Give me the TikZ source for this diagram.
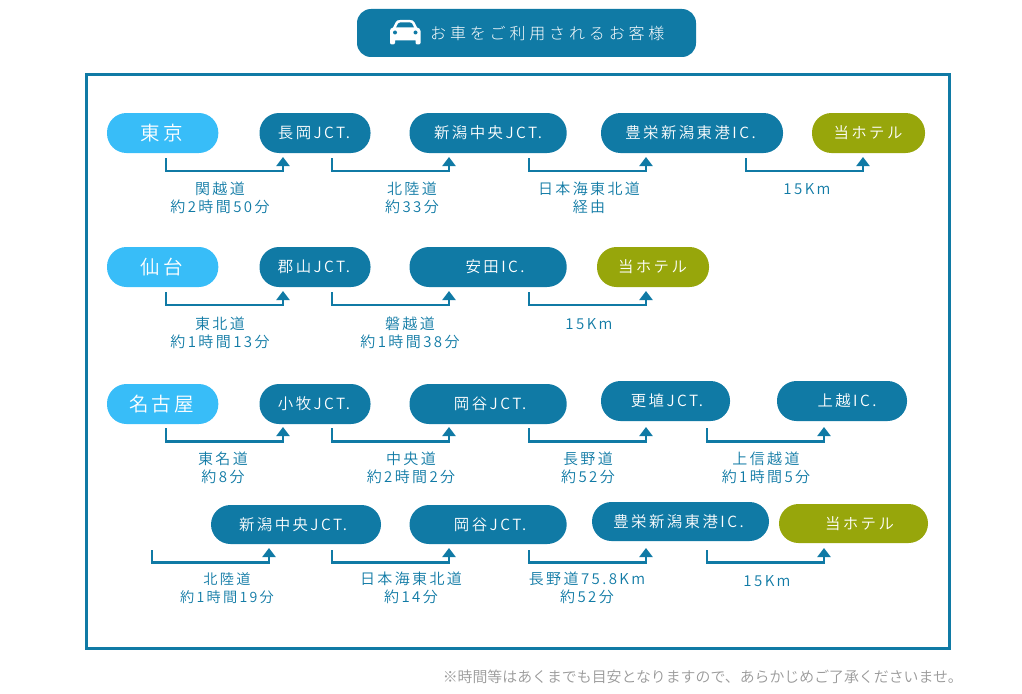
\documentclass[tikz,border=0pt]{standalone}
\usepackage{fontspec}
\usetikzlibrary{arrows.meta}
\setmainfont{Noto Sans CJK JP}
\newfontfamily\jpa[LetterSpace=16]{Noto Sans CJK JP DemiLight}
\newfontfamily\jph[LetterSpace=24]{Noto Sans CJK JP Light}
\newfontfamily\jpb{Noto Sans CJK JP DemiLight}
\definecolor{tealblue}{HTML}{107AA5}
\definecolor{skyb}{HTML}{38BDF8}
\definecolor{olivegr}{HTML}{97A60B}
\definecolor{notegray}{HTML}{999999}
\tikzset{
  x=1pt,y=-1pt,
  pillbase/.style={rounded corners=19.5pt,inner sep=0pt,text=white,font=\jpa\fontsize{15.4}{15.4}\selectfont,anchor=center},
  route/.style={pillbase,fill=tealblue},
  city/.style={pillbase,fill=skyb,font=\jpa\fontsize{19.5}{19.5}\selectfont},
  hotel/.style={pillbase,fill=olivegr},
  conn/.style={draw=tealblue,line width=2.2pt,-{Triangle[width=13pt,length=9pt]}},
  lab/.style={text=tealblue,font=\jpa\fontsize{15}{15}\selectfont,anchor=center,inner sep=0pt},
  labsmall/.style={lab,font=\jpa\fontsize{14.2}{14.2}\selectfont},
}
% name, x0, x1, y0, y1, style, dx, text
\newcommand{\pill}[8]{%
  \pgfmathsetmacro{\pw}{#3-#2}\pgfmathsetmacro{\ph}{#5-#4}%
  \pgfmathsetmacro{\pcx}{(#2+#3)/2}\pgfmathsetmacro{\pcy}{(#4+#5)/2}%
  \node[#6,minimum width=\pw pt,minimum height=\ph pt] (#1) at (\pcx,\pcy) {\hspace*{#7pt}#8};}
% name, x start, x tip, y start, y bar, y tip
\newcommand{\conn}[6]{%
  \coordinate (#1s) at (#2,#4);\coordinate (#1m) at (#3,#5);\coordinate (#1e) at (#3,#6);
  \draw[conn] (#1s) |- (#1m) -- (#1e);}
\newcommand{\lbl}[4]{\node[lab] (#1) at (#2,#3) {#4};}
\begin{document}
\begin{tikzpicture}
\useasboundingbox (0,0) rectangle (1022,693);
% frame
\node[draw=tealblue,line width=3pt,minimum width=863pt,minimum height=574pt,inner sep=0pt] (frame) at (518,361.5) {};
% header
\node[fill=tealblue,rounded corners=14pt,minimum width=339pt,minimum height=48pt,inner sep=0pt] (head) at (526.5,33) {};
\node[text=white,font=\jph\fontsize{16}{16}\selectfont,inner sep=0pt,anchor=west] (headt) at (430,33) {お車をご利用されるお客様};
% car icon
\fill[white] (390,38) -- (390,31) .. controls (390,29) and (391,28) .. (393,27.5)
  -- (395.5,22.5) .. controls (396.5,20.5) and (398,20) .. (400,20) -- (410,20)
  .. controls (412,20) and (413.5,20.5) .. (414.5,22.5) -- (417,27.5)
  .. controls (419,28) and (420.5,29) .. (420.5,31) -- (420.5,38) -- (420.5,43)
  .. controls (420.5,45) and (415.5,45) .. (415.5,43) -- (415.5,40.5) -- (395,40.5) -- (395,43)
  .. controls (395,45) and (390,45) .. (390,43) -- cycle;
\fill[tealblue] (396,27.5) -- (398,23.5) .. controls (398.5,22.5) and (399,22.5) .. (400,22.5) -- (410,22.5)
  .. controls (411,22.5) and (411.5,22.5) .. (412,23.5) -- (414,27.5) -- cycle;
\fill[tealblue] (395,32.5) circle[radius=2pt] (415.5,32.5) circle[radius=2pt];
% row 1
\pill{a1}{107}{218.3}{113}{153}{city}{-2}{東京}
\pill{a2}{259.5}{370.5}{113}{153}{route}{-2}{長岡JCT.}
\pill{a3}{409.5}{566.7}{113}{153}{route}{0}{新潟中央JCT.}
\pill{a4}{601}{783}{113}{153}{route}{-3}{豊栄新潟東港IC.}
\pill{a5}{812}{925}{113}{153}{hotel}{-1}{当ホテル}
\conn{ca1}{166}{283}{158}{171}{157}
\conn{ca2}{332}{449}{158}{171}{157}
\conn{ca3}{529}{646}{158}{171}{157}
\conn{ca4}{746}{863}{158}{171}{157}
\lbl{la1}{220}{189}{関越道}\lbl{la2}{220}{207}{約2時間50分}
\lbl{la3}{412}{189}{北陸道}\lbl{la4}{412}{207}{約33分}
\lbl{la5}{589}{189}{日本海東北道}\lbl{la6}{589}{207}{経由}
\lbl{la7}{807}{189}{15Km}
% row 2
\pill{b1}{107}{218.3}{247}{287}{city}{-2}{仙台}
\pill{b2}{259.5}{370.5}{247}{287}{route}{-2}{郡山JCT.}
\pill{b3}{409.5}{566.7}{247}{287}{route}{14}{安田IC.}
\pill{b4}{597}{709}{247}{287}{hotel}{-1}{当ホテル}
\conn{cb1}{166}{283}{292}{305}{291}
\conn{cb2}{332}{449}{292}{305}{291}
\conn{cb3}{529}{646}{292}{305}{291}
\lbl{lb1}{220}{324}{東北道}\lbl{lb2}{220}{342}{約1時間13分}
\lbl{lb3}{410}{324}{磐越道}\lbl{lb4}{410}{342}{約1時間38分}
\lbl{lb5}{589}{324}{15Km}
% row 3
\pill{c1}{107}{218.3}{384}{424}{city}{-2}{名古屋}
\pill{c2}{259.5}{370.5}{384}{424}{route}{-2}{小牧JCT.}
\pill{c3}{409.5}{566.7}{384}{424}{route}{4}{岡谷JCT.}
\pill{c4}{601}{730}{381}{421}{route}{3}{更埴JCT.}
\pill{c5}{777}{907}{381}{421}{route}{10}{上越IC.}
\conn{cc1}{166}{283}{428}{441.5}{427}
\conn{cc2}{332}{449}{428}{441.5}{427}
\conn{cc3}{529}{646}{428}{441.5}{427}
\conn{cc4}{707}{824}{428}{441.5}{427}
\lbl{lc1}{223}{459}{東名道}\lbl{lc2}{223}{477}{約8分}
\lbl{lc3}{411}{459}{中央道}\lbl{lc4}{411}{477}{約2時間2分}
\lbl{lc5}{588}{459}{長野道}\lbl{lc6}{588}{477}{約52分}
\lbl{lc7}{766}{459}{上信越道}\lbl{lc8}{766}{477}{約1時間5分}
% row 4
\pill{d1}{211}{381}{505}{544}{route}{-6}{新潟中央JCT.}
\pill{d2}{409.5}{566.7}{505}{544}{route}{4}{岡谷JCT.}
\pill{d3}{592}{769}{502}{541}{route}{-4}{豊栄新潟東港IC.}
\pill{d4}{779}{928}{504}{543}{hotel}{12}{当ホテル}
\conn{cd1}{152}{269}{550}{562.5}{548}
\conn{cd2}{332}{449}{550}{562.5}{548}
\conn{cd3}{529}{646}{550}{562.5}{548}
\conn{cd4}{707}{824}{550}{562.5}{548}
\node[labsmall] (ld1) at (227,579) {北陸道};
\node[labsmall] (ld2) at (227,597) {約1時間19分};
\lbl{ld3}{411}{579}{日本海東北道}\lbl{ld4}{411}{597}{約14分}
\lbl{ld5}{587}{579}{長野道75.8Km}\lbl{ld6}{587}{597}{約52分}
\lbl{ld7}{767}{581}{15Km}
% footnote
\node[text=notegray,font=\jpb\fontsize{14.9}{14.9}\selectfont,inner sep=0pt,anchor=east] (note) at (963,677) {※時間等はあくまでも目安となりますので、あらかじめご了承くださいませ。};
\end{tikzpicture}
\end{document}
